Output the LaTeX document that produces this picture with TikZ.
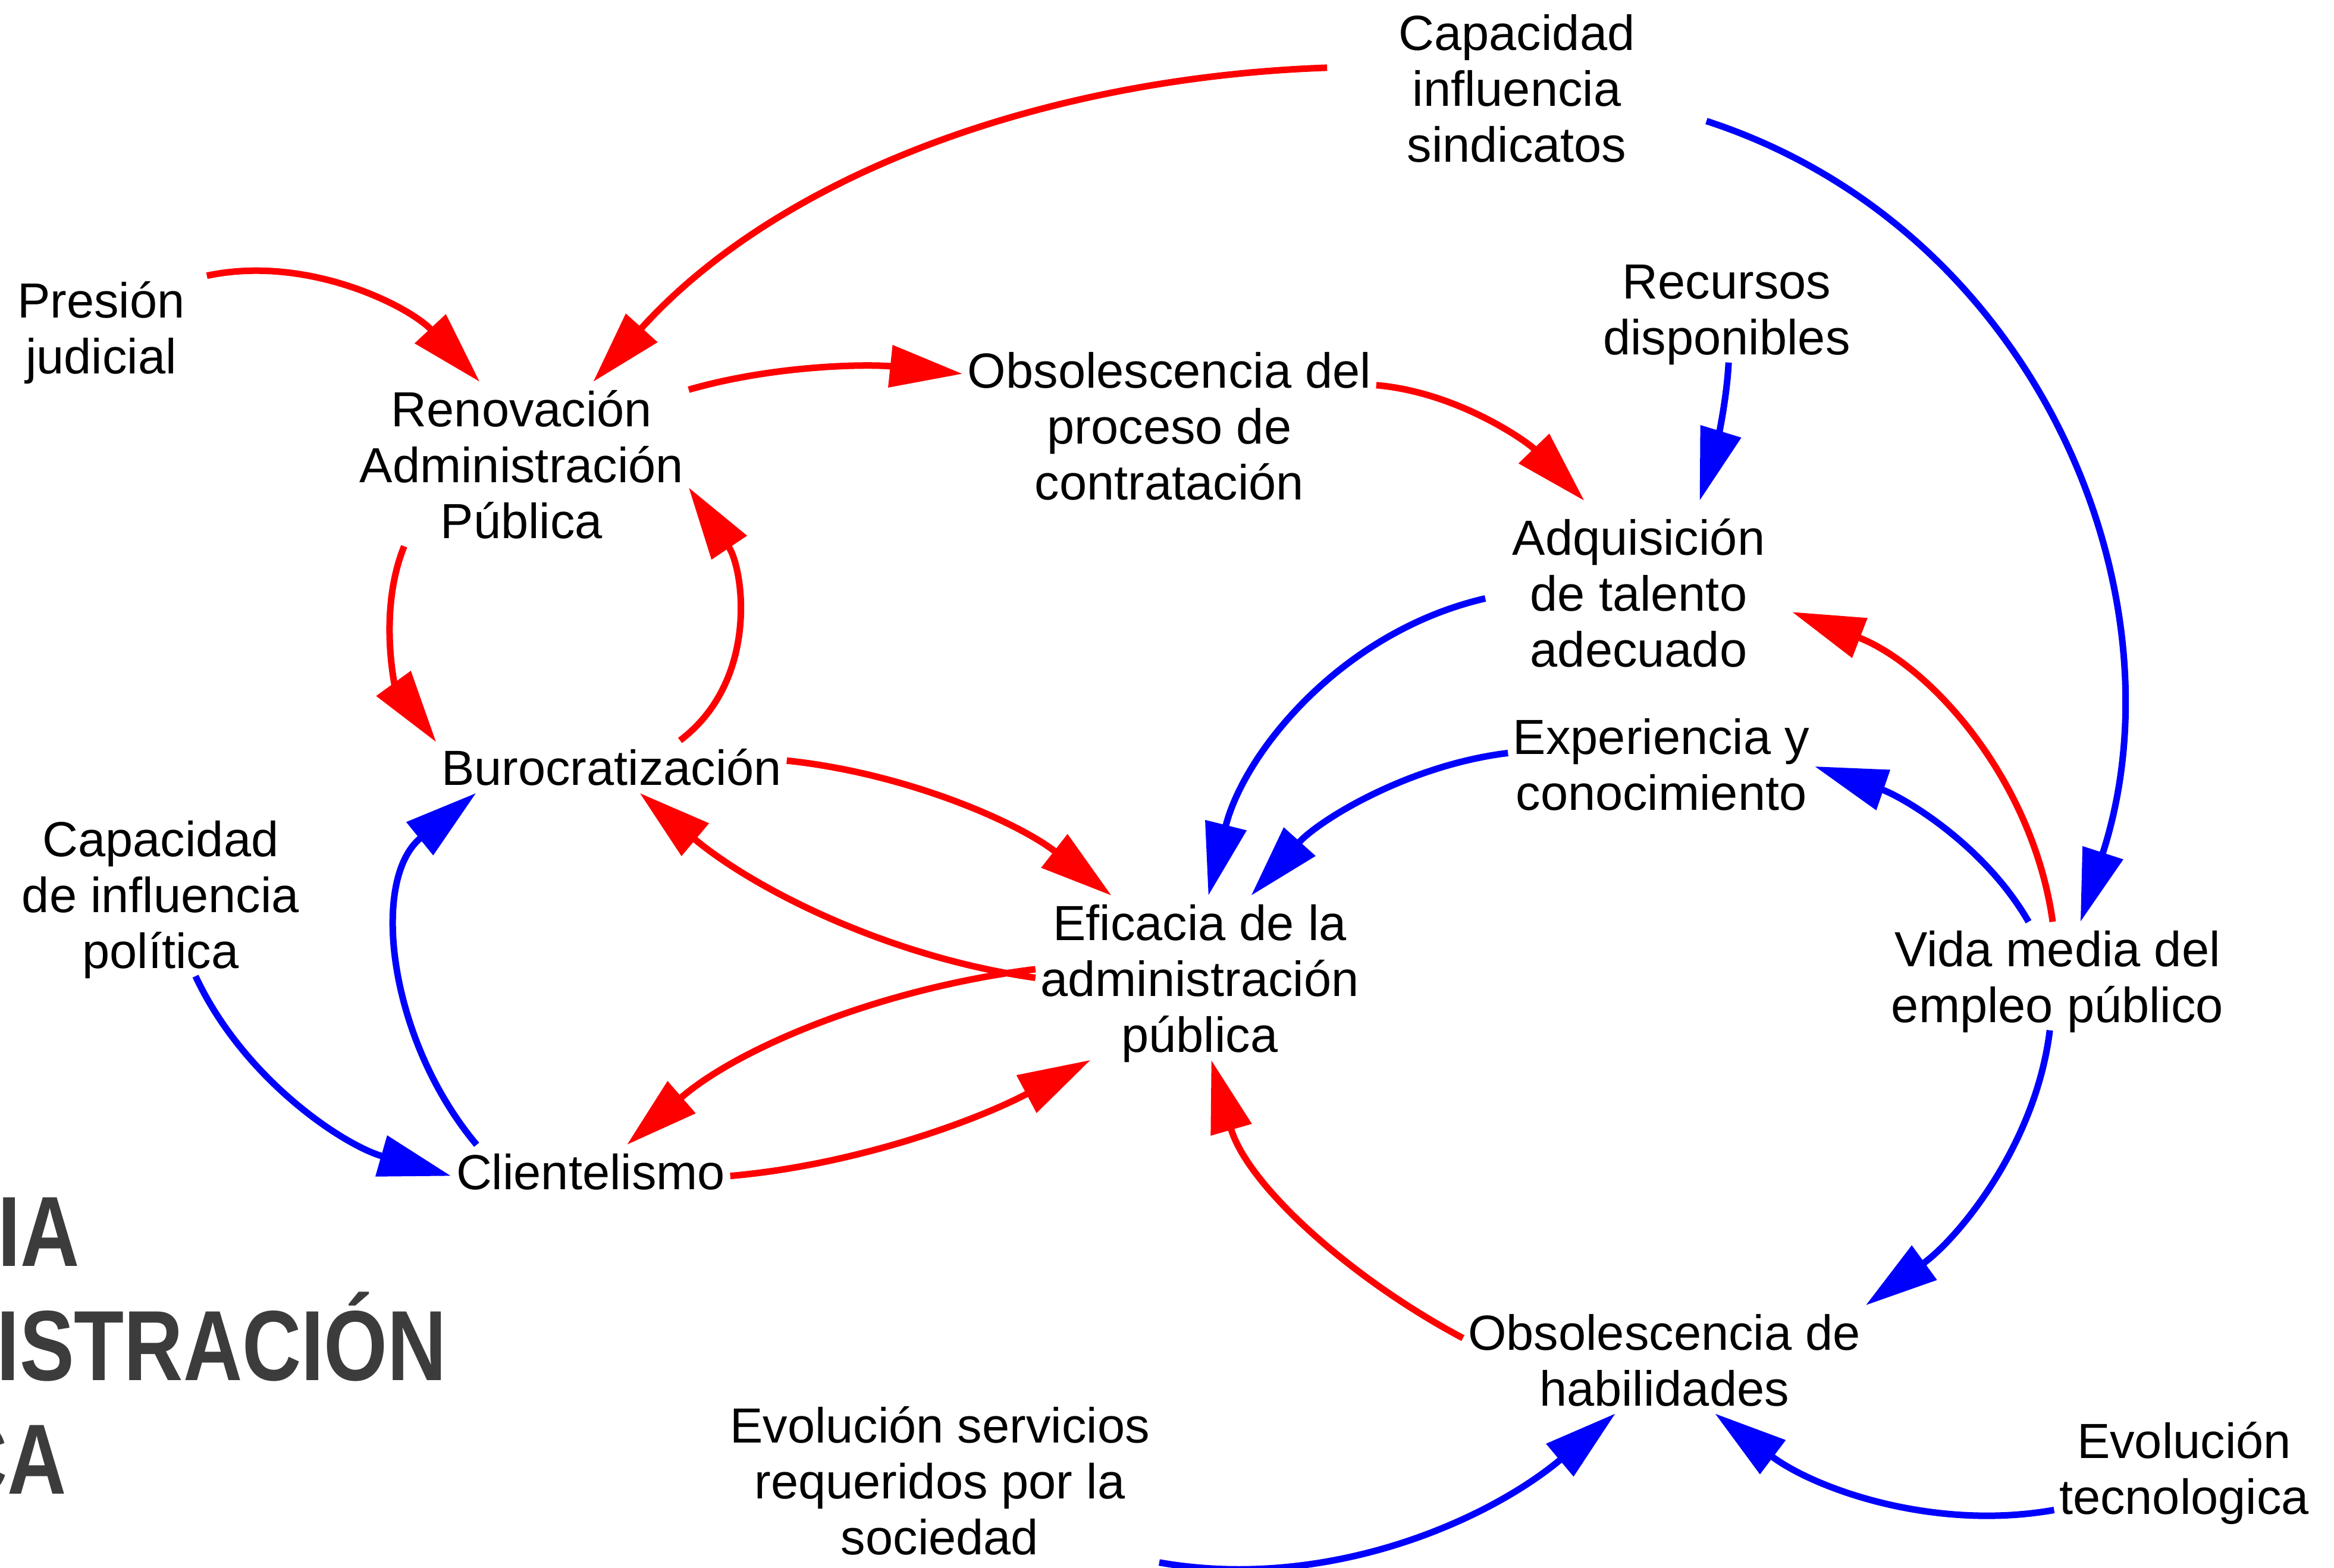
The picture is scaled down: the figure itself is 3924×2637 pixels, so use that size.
\documentclass[tikz,border=0pt]{standalone}
\usepackage{fontspec}
\setmainfont{Liberation Sans}
\usetikzlibrary{arrows.meta}
\definecolor{titlegray}{HTML}{3C3C3C}

\begin{document}
\begin{tikzpicture}[x=0.01cm,y=0.01cm,
	var/.style={font=\fontsize{23.6}{26.75}\selectfont,align=center,anchor=base,
		inner xsep=0.08cm,inner ysep=0.12cm,text depth=0pt,text height={(#1-1)*0.94cm+0.63cm}},
	var/.default=1,
	causal/.style={line width=0.11cm,-{Triangle[length=1.22cm,width=0.69cm]}},
	poslink/.style={causal,draw=blue},
	neglink/.style={causal,draw=red},
	headline/.style={font=\fontsize{47.7}{52}\selectfont\bfseries,text=titlegray,anchor=base east,inner sep=0pt}]

	\useasboundingbox[fill=white] (0,0) rectangle (3924,2637);
	\clip (0,0) rectangle (3924,2637);

	% variables
	\node[var=2,minimum width=3.54cm] (presion) at (170,2008) {Presión\\judicial};
	\node[var=3] (renov) at (877,1731) {Renovación\\Administración\\Pública};
	\node[var] (buro) at (1028,1316) {Burocratización};
	\node[var] (client) at (993,636) {Clientelismo};
	\node[var=3] (cappol) at (270,1008) {Capacidad\\de influencia\\política};
	\node[var=3] (efic) at (2017,867) {Eficacia de la\\administración\\pública};
	\node[var=3] (obsp) at (1966,1796) {Obsolescencia del\\proceso de\\contratación};
	\node[var=3,minimum width=6.36cm] (sind) at (2550,2364) {Capacidad\\influencia\\sindicatos};
	\node[var=2] (recur) at (2903,2040) {Recursos\\disponibles};
	\node[var=3,text height=2.67cm,minimum width=5.14cm] (adq) at (2755,1515) {Adquisición\\de talento\\adecuado};
	\node[var=2] (exp) at (2793,1274) {Experiencia y\\conocimiento};
	\node[var=2] (vida) at (3459,917) {Vida media del\\empleo público};
	\node[var=2] (obsh) at (2798,272.5) {Obsolescencia de\\habilidades};
	\node[var=3,minimum width=7.36cm] (evser) at (1580,22) {Evolución servicios\\requeridos por la\\sociedad};
	\node[var=2] (evtec) at (3672,90) {Evolución\\tecnologica};

	% title, cut by the left edge
	\node[headline] (title1) at (135,507) {\scalebox{0.82}[1]{IA}};
	\node[headline] (title2) at (752,315.5) {\scalebox{0.82}[1]{ISTRACIÓN}};
	\node[headline] (title3) at (113,124) {\scalebox{0.82}[1]{CA}};

	% links
	\draw[neglink] (sind.174) to[out=182,in=48,looseness=0.9] (renov.49);
	\draw[poslink] (sind.-10) to[out=-18,in=72] (vida.67);
	\draw[neglink] (presion.26) to[out=12,in=133,looseness=0.9] (renov.117);
	\draw[neglink] (renov.24) to[out=16,in=174,looseness=0.86] (obsp.166);
	\draw[neglink] (obsp.11) to[out=-5,in=134,looseness=0.88] (adq.122);
	\draw[poslink] (recur.-88) to[out=-93,in=73,looseness=0.85] (adq.55);
	\draw[neglink] (renov.215) to[out=-112,in=126,looseness=0.9] (buro.172);
	\draw[neglink] (buro.21) to[out=37,in=-56] (renov.-8);
	\draw[neglink] (buro.2) to[out=-6,in=142,looseness=0.87] (efic.137);
	\draw[neglink] (efic.180) to[out=172,in=-40,looseness=0.87] (buro.-43);
	\draw[neglink] (efic.177) to[out=187,in=41,looseness=0.87] (client.36);
	\draw[neglink] (client.-2) to[out=5,in=-152,looseness=0.86] (efic.217);
	\draw[poslink] (client.167) to[out=130,in=-141] (buro.191);
	\draw[poslink] (cappol.-67) to[out=-65,in=164,looseness=0.89] (client.182);
	\draw[poslink] (adq.184) to[out=193,in=76,looseness=0.93] (efic.84);
	\draw[poslink] (exp.176) to[out=187,in=48,looseness=0.88] (efic.58);
	\draw[poslink] (vida.118) to[out=120,in=-19,looseness=0.88] (exp.-1);
	\draw[neglink] (vida.95) to[out=98,in=-21,looseness=0.92] (adq.-9);
	\draw[poslink] (vida.-98) to[out=263,in=36,looseness=0.89] (obsh.15);
	\draw[neglink] (obsh.174) to[out=152,in=-74,looseness=0.88] (efic.-82);
	\draw[poslink] (evser.south east) to[out=-10,in=220,looseness=0.9] (obsh.228);
	\draw[poslink] (evtec.198) to[out=190,in=-37,looseness=0.9] (obsh.-47);
\end{tikzpicture}
\end{document}
